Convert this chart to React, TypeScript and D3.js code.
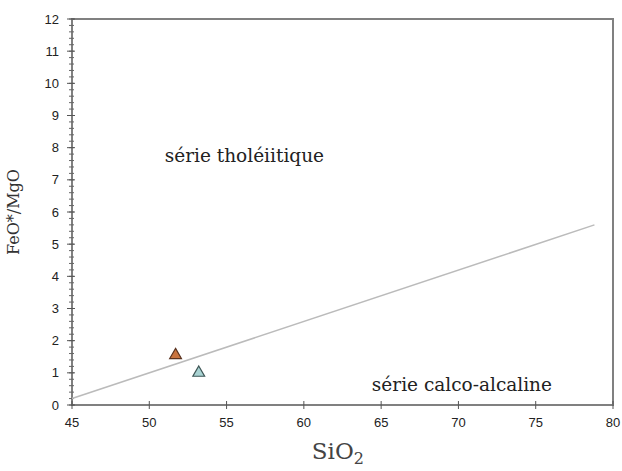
import React from "react";
import * as d3 from "d3";

const xTicks = [45, 50, 55, 60, 65, 70, 75, 80];
const yTicks = [0, 1, 2, 3, 4, 5, 6, 7, 8, 9, 10, 11, 12];
const dividerSiO2 = [45, 78.8];
const dividerRatio = [0.2, 5.6];
const sampleSiO2 = [51.7, 53.2];
const sampleRatio = [1.55, 1.0];
const sampleFill = ["#c9743f", "#a9d3d3"];
const sampleStroke = ["#5a3320", "#3d5555"];
const regionLabels = ["série tholéiitique", "série calco-alcaline"];
const regionX = [51.0, 64.4];
const regionY = [7.55, 0.43];

const SERIF = "'DejaVu Serif', 'Liberation Serif', serif";
const SANS = "'Liberation Sans', Arial, sans-serif";

export default function App() {
  const W = 622, H = 471;
  const left = 72, right = 613, top = 19, bottom = 405;
  const x = d3.scaleLinear().domain([45, 80]).range([left, right]);
  const y = d3.scaleLinear().domain([0, 12]).range([bottom, top]);
  const minor = d3.range(0, 12.001, 0.2);
  const line = d3.line<number>().x((_, i) => x(dividerSiO2[i])).y((d) => y(d));
  const tri = d3.symbol().type(d3.symbolTriangle).size(60);
  const axisColor = "#808080";
  return (
    <svg width={W} height={H} style={{ position: "absolute", left: 0, top: 0, background: "#fff" }}>
      <rect x={left} y={top} width={right - left} height={bottom - top} fill="none" stroke={axisColor} strokeWidth={2} />
      {minor.map((v, i) => (
        <line key={"m" + i} x1={left - 3} x2={left + 2} y1={y(v)} y2={y(v)} stroke="#666" strokeWidth={1} />
      ))}
      {yTicks.map((v) => (
        <g key={"y" + v}>
          <line x1={left - 5} x2={left + 3} y1={y(v)} y2={y(v)} stroke="#555" strokeWidth={1} />
          <text x={left - 13} y={y(v)} dy="0.35em" textAnchor="end" fontFamily={SANS} fontSize={13} fill="#222">{v}</text>
        </g>
      ))}
      {xTicks.map((v) => (
        <g key={"x" + v}>
          <line x1={x(v)} x2={x(v)} y1={bottom - 4} y2={bottom + 4} stroke="#555" strokeWidth={1} />
          <text x={x(v)} y={bottom + 22} textAnchor="middle" fontFamily={SANS} fontSize={13} fill="#222">{v}</text>
        </g>
      ))}
      <path d={line(dividerRatio) || ""} fill="none" stroke="#bbb" strokeWidth={1.5} />
      {sampleSiO2.map((s, i) => (
        <path key={"s" + i} d={tri() || ""} transform={`translate(${x(s)},${y(sampleRatio[i])})`} fill={sampleFill[i]} stroke={sampleStroke[i]} strokeWidth={1.2} />
      ))}
      {regionLabels.map((t, i) => (
        <text key={"r" + i} x={x(regionX[i])} y={y(regionY[i])} fontFamily={SERIF} fontSize={18.5} fill="#222">{t}</text>
      ))}
      <text x={x(62.2)} y={459} textAnchor="middle" fontFamily={SERIF} fontSize={23} fill="#444">
        SiO<tspan dy="5" fontSize={16}>2</tspan>
      </text>
      <text transform={`translate(19,${y(6)}) rotate(-90)`} textAnchor="middle" fontFamily={SERIF} fontSize={16} fill="#333">FeO*/MgO</text>
    </svg>
  );
}
